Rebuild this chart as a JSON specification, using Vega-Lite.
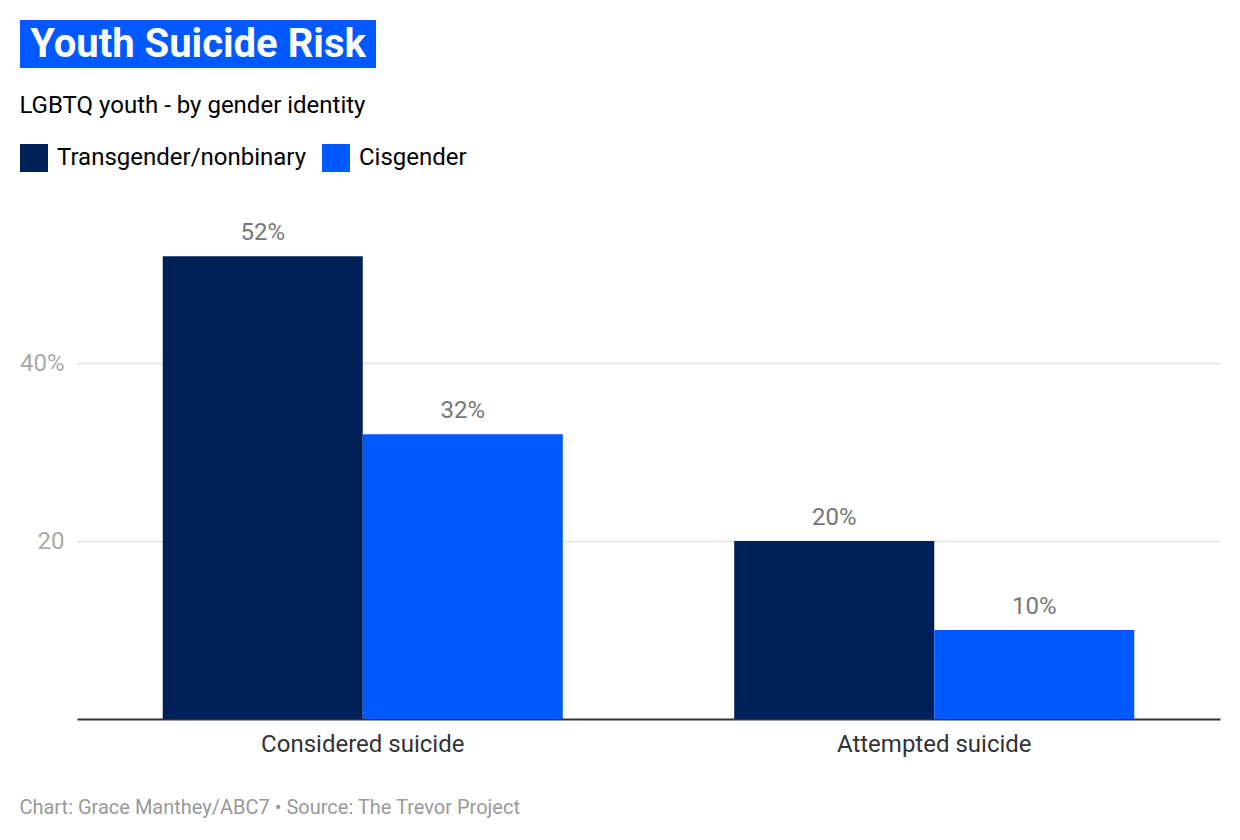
{
  "$schema": "https://vega.github.io/schema/vega-lite/v6.json",
  "padding": {"left": 19, "top": 20, "right": 20, "bottom": 10},
  "background": "white",
  "config": {
    "font": "Roboto",
    "view": {"stroke": null}
  },
  "title": {
    "text": "Chart: Grace Manthey/ABC7 • Source: The Trevor Project",
    "orient": "bottom",
    "anchor": "start",
    "frame": "bounds",
    "fontSize": 20,
    "fontWeight": "normal",
    "color": "#999999",
    "offset": 42
  },
  "spacing": 26,
  "resolve": {"legend": {"color": "independent"}, "scale": {"color": "independent"}},
  "vconcat": [
    {
      "width": 356,
      "height": 48,
      "view": {"fill": "#0059ff", "stroke": null},
      "data": {"values": [{"title": "Youth Suicide Risk"}]},
      "mark": {"type": "text", "color": "white", "fontSize": 40, "fontWeight": "bold", "align": "center", "baseline": "middle", "dy": 1},
      "encoding": {"text": {"field": "title"}}
    },
    {
      "width": 1200,
      "height": 534,
      "title": {
        "text": "LGBTQ youth - by gender identity",
        "anchor": "start",
        "frame": "bounds",
        "fontSize": 24,
        "fontWeight": "normal",
        "color": "#000000",
        "offset": 26
      },
      "data": {
        "values": [
          {"category": "Considered suicide", "group": "Transgender/nonbinary", "value": 52},
          {"category": "Considered suicide", "group": "Cisgender", "value": 32},
          {"category": "Attempted suicide", "group": "Transgender/nonbinary", "value": 20},
          {"category": "Attempted suicide", "group": "Cisgender", "value": 10}
        ]
      },
      "encoding": {
        "x": {
          "field": "category",
          "type": "nominal",
          "sort": ["Considered suicide", "Attempted suicide"],
          "scale": {"paddingInner": 0.3, "paddingOuter": 0.15, "range": [57, 1200]},
          "axis": {
            "title": null,
            "labelAngle": 0,
            "labelFontSize": 24,
            "labelColor": "#333333",
            "labelPadding": 13,
            "labelLimit": 0,
            "ticks": false,
            "domainColor": "#333333",
            "domainWidth": 2
          }
        },
        "xOffset": {
          "field": "group",
          "type": "nominal",
          "sort": ["Transgender/nonbinary", "Cisgender"],
          "scale": {"paddingInner": 0, "paddingOuter": 0}
        },
        "y": {
          "field": "value",
          "type": "quantitative",
          "scale": {"domain": [0, 60]},
          "axis": {
            "title": null,
            "values": [20, 40],
            "labelExpr": "datum.value == 40 ? '40%' : datum.label",
            "labelFontSize": 24,
            "labelColor": "#aaaaaa",
            "labelAlign": "right",
            "labelPadding": -44,
            "ticks": false,
            "domain": false,
            "gridColor": "#e3e3e3",
            "gridWidth": 1.5
          }
        }
      },
      "layer": [
        {
          "mark": {"type": "bar"},
          "encoding": {
            "color": {
              "field": "group",
              "type": "nominal",
              "sort": ["Transgender/nonbinary", "Cisgender"],
              "scale": {"domain": ["Transgender/nonbinary", "Cisgender"], "range": ["#002157", "#0059ff"]},
              "legend": {
                "title": null,
                "orient": "none",
                "direction": "horizontal",
                "legendX": 0,
                "legendY": -41,
                "symbolType": "square",
                "symbolSize": 784,
                "symbolStrokeWidth": 0,
                "symbolOpacity": 1,
                "labelFontSize": 24,
                "labelColor": "#000000",
                "labelOffset": 9,
                "labelLimit": 0,
                "columnPadding": 15
              }
            }
          }
        },
        {
          "mark": {"type": "text", "baseline": "bottom", "dy": -11, "fontSize": 24, "color": "#777777", "text": {"expr": "datum.value + '%'"}},
          "encoding": {}
        }
      ]
    }
  ]
}
